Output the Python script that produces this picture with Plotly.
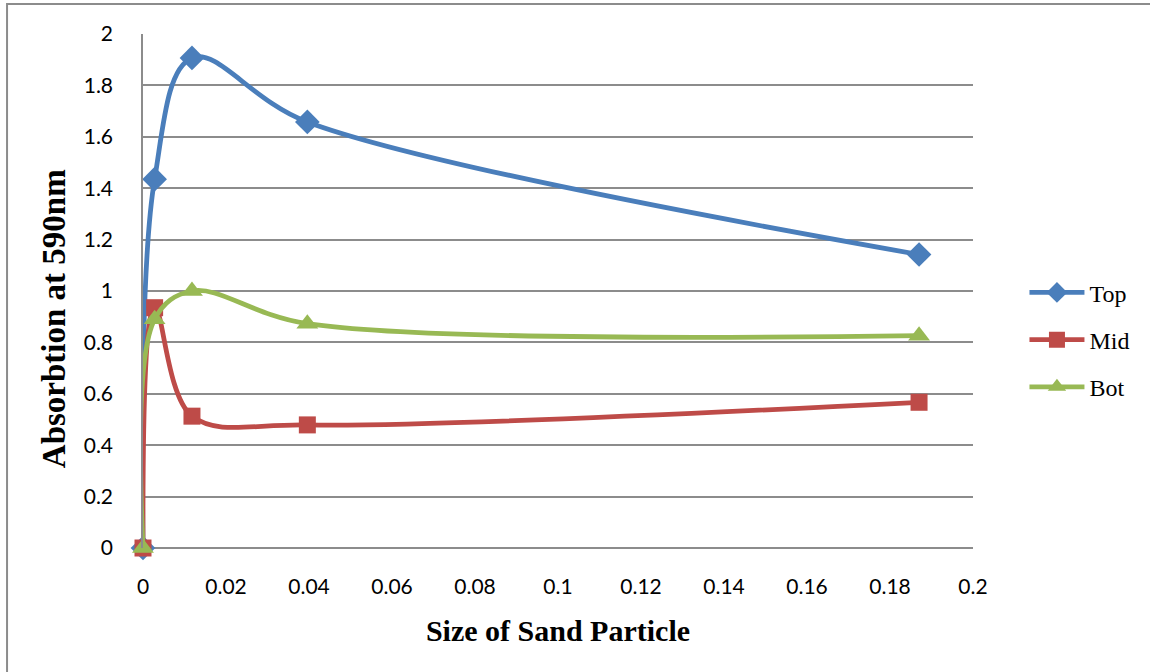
import plotly.graph_objects as go

# Particle sizes and absorbance readings at 590 nm
sizes = [0.0, 0.0028, 0.0118, 0.0396, 0.187]
top = [0.0, 1.435, 1.907, 1.658, 1.142]
mid = [0.0, 0.935, 0.513, 0.479, 0.567]
bot = [0.0, 0.89, 1.0, 0.873, 0.826]

x_ticks = [0, 0.02, 0.04, 0.06, 0.08, 0.1, 0.12, 0.14, 0.16, 0.18, 0.2]
x_tick_text = ["0", "0.02", "0.04", "0.06", "0.08", "0.1", "0.12", "0.14", "0.16", "0.18", "0.2"]
y_ticks = [0, 0.2, 0.4, 0.6, 0.8, 1, 1.2, 1.4, 1.6, 1.8, 2]
y_tick_text = ["0", "0.2", "0.4", "0.6", "0.8", "1", "1.2", "1.4", "1.6", "1.8", "2"]

series = [
    ("Top", top, "#4A7EBB", "diamond", 19),
    ("Mid", mid, "#BE4B48", "square", 17),
    ("Bot", bot, "#98B954", "triangle-up", 19),
]

fig = go.Figure()
for name, vals, color, symbol, msize in series:
    fig.add_trace(go.Scatter(
        x=sizes, y=vals, name=name, mode="lines+markers",
        legendgroup=name, cliponaxis=False,
        line=dict(color=color, width=4.8, shape="spline", smoothing=1.0),
        marker=dict(symbol=symbol, size=msize, color=color),
    ))

tick_font = dict(family="Lato, Carlito, Liberation Sans, sans-serif", size=21, color="#000000")
serif = "Liberation Serif, serif"

fig.update_layout(
    width=1150, height=672,
    margin=dict(l=143, r=177, t=34, b=124),
    paper_bgcolor="white", plot_bgcolor="white",
    showlegend=True,
    legend=dict(
        x=1.062, y=0.405, xanchor="left", yanchor="middle",
        font=dict(family=serif, size=24, color="#000000"),
        tracegroupgap=13, itemwidth=55,
        bgcolor="rgba(0,0,0,0)",
    ),
    shapes=[dict(
        type="rect", xref="paper", yref="paper",
        x0=-0.1638, x1=1.25, y0=-0.3, y1=1.0582,
        line=dict(color="#8C8C8C", width=2), layer="below",
    )],
    annotations=[dict(
        text="<b>Absorbtion at 590nm</b>", textangle=-90,
        xref="paper", yref="paper", x=-0.107, y=0.4455,
        xanchor="center", yanchor="middle", showarrow=False,
        font=dict(family=serif, size=33, color="#000000"),
    )],
)

fig.update_xaxes(
    range=[0, 0.2], tickvals=x_ticks, ticktext=x_tick_text,
    showgrid=False, zeroline=False, showline=False,
    ticks="", ticklabelstandoff=24, tickfont=tick_font,
    title=dict(text="<b>Size of Sand Particle</b>",
               font=dict(family=serif, size=30, color="#000000"),
               standoff=22),
)
fig.update_yaxes(
    range=[0, 2], tickvals=y_ticks, ticktext=y_tick_text,
    showgrid=True, gridcolor="#8C8C8C", gridwidth=1.5,
    zeroline=True, zerolinecolor="#8C8C8C", zerolinewidth=1.5,
    showline=True, linecolor="#8C8C8C", linewidth=1.5,
    ticks="", ticklabelstandoff=24, tickfont=tick_font,
)

fig.write_html("out.html")
